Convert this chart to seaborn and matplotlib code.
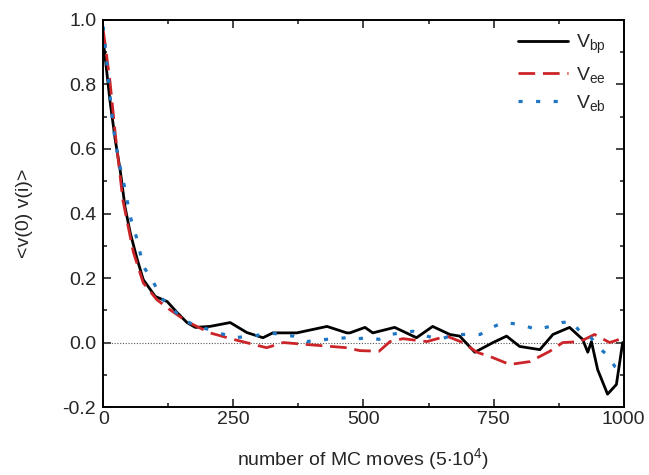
import numpy as np
import pandas as pd
import matplotlib
matplotlib.use("Agg")
import matplotlib.pyplot as plt
import seaborn as sns
from matplotlib.ticker import MultipleLocator

# ---- data ----
bp_x = [0, 2, 13, 23, 33, 42, 52, 65, 77, 100, 123, 142, 161, 177, 205, 244, 276, 307, 326,
        372, 430, 468, 474, 503, 518, 560, 602, 633, 666, 685, 714, 749, 775, 800, 839, 864,
        896, 921, 931, 938, 950, 969, 986, 998]
bp_y = [0.93, 0.91, 0.75, 0.63, 0.53, 0.42, 0.34, 0.26, 0.195, 0.143, 0.127, 0.093, 0.062, 0.047,
        0.05, 0.062, 0.031, 0.015, 0.03, 0.03, 0.05, 0.03, 0.03, 0.047, 0.03, 0.047, 0.015, 0.05,
        0.025, 0.02, -0.03, 0.0, 0.02, -0.012, -0.022, 0.025, 0.047, 0.01, -0.03, 0.003, -0.084,
        -0.16, -0.13, 0.0]

ee_x = [0, 13, 23, 38, 58, 77, 103, 128, 161, 205, 250, 314, 346, 391, 468, 493, 530, 551, 576,
        622, 660, 691, 718, 749, 781, 820, 858, 883, 916, 944, 973, 992, 1000]
ee_y = [0.97, 0.81, 0.65, 0.44, 0.28, 0.185, 0.133, 0.102, 0.065, 0.03, 0.01, -0.016, 0.0, -0.006,
        -0.016, -0.025, -0.027, 0.003, 0.012, 0.003, 0.02, 0.0, -0.03, -0.047, -0.068, -0.059,
        -0.027, 0.0, 0.003, 0.025, 0.0, 0.01, 0.0]

eb_x = [0, 19, 29, 42, 52, 65, 77, 90, 115, 154, 180, 205, 250, 288, 320, 365, 391, 430, 468, 480,
        507, 530, 551, 595, 622, 647, 666, 691, 724, 747, 768, 787, 814, 833, 858, 881, 900, 916,
        935, 950, 967, 983, 992, 1000]
eb_y = [0.98, 0.67, 0.57, 0.475, 0.39, 0.32, 0.236, 0.205, 0.133, 0.071, 0.05, 0.04, 0.015, 0.02,
        0.03, 0.02, 0.003, 0.01, 0.015, 0.01, 0.015, 0.01, 0.025, 0.035, 0.02, 0.01, 0.02, 0.025,
        0.025, 0.047, 0.062, 0.059, 0.05, 0.04, 0.05, 0.062, 0.065, 0.034, 0.02, -0.012, -0.037,
        -0.074, -0.084, -0.1]

labels = [r"$\mathregular{V_{bp}}$", r"$\mathregular{V_{ee}}$", r"$\mathregular{V_{eb}}$"]
x_ticks = [0, 250, 500, 750, 1000]
y_ticks = [-0.2, 0.0, 0.2, 0.4, 0.6, 0.8, 1.0]

# ---- plot ----
sns.set_style("ticks")
plt.rcParams["font.family"] = ["Liberation Sans", "DejaVu Sans"]
plt.rcParams["mathtext.fontset"] = "custom"
plt.rcParams["mathtext.rm"] = "Liberation Sans"

fig = plt.figure(figsize=(6.49, 4.75), dpi=100)
ax = fig.add_axes([0.159, 0.143, 0.802, 0.815])

ax.axhline(0, color="#555555", lw=0.8, ls=(0, (1, 1.5)), zorder=1)

DASH = (0, (6, 2.8))
DOT = (0, (1.3, 4.2))
sns.lineplot(x=bp_x, y=bp_y, ax=ax, color="black", lw=2.0, label=labels[0])
sns.lineplot(x=ee_x, y=ee_y, ax=ax, color="#cc2529", lw=2.0, label=labels[1])
sns.lineplot(x=eb_x, y=eb_y, ax=ax, color="#1f77c4", lw=2.3, label=labels[2])
ax.lines[2].set_linestyle(DASH)
ax.lines[3].set_linestyle(DOT)

ax.set_xlim(0, 1000)
ax.set_ylim(-0.2, 1.0)
ax.set_xticks(x_ticks)
ax.set_xticklabels([str(t) for t in x_ticks])
ax.set_yticks(y_ticks)
ax.set_yticklabels([f"{t:.1f}" for t in y_ticks])
ax.xaxis.set_minor_locator(MultipleLocator(125))
ax.yaxis.set_minor_locator(MultipleLocator(0.1))
ax.tick_params(which="both", direction="in", top=True, right=True, labelsize=14, width=1.2)
ax.tick_params(which="major", length=6)
ax.tick_params(which="minor", length=3)
ax.tick_params(axis="x", pad=3)
ax.tick_params(axis="y", pad=5)
for s in ax.spines.values():
    s.set_linewidth(1.4)
    s.set_color("black")

ax.set_xlabel(r"number of MC moves (5$\mathregular{\cdot}$10$\mathregular{^4}$)", fontsize=14, labelpad=13)
ax.set_ylabel("<v(0) v(i)>", fontsize=14, labelpad=21)

leg = ax.legend(loc="upper right", frameon=False, fontsize=14, handlelength=2.6,
                handletextpad=0.4, labelspacing=0.45, borderaxespad=0.25,
                bbox_to_anchor=(0.99, 1.0))
leg.get_lines()[1].set_linestyle(DASH)
leg.get_lines()[2].set_linestyle(DOT)

fig.savefig("out.png", dpi=100)
